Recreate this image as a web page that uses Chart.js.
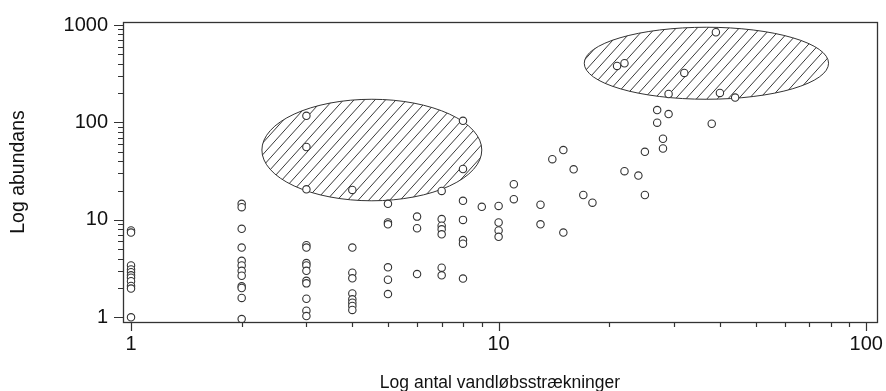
<!DOCTYPE html>
<html><head><meta charset="utf-8">
<script src="https://cdn.jsdelivr.net/npm/chart.js@4/dist/chart.umd.min.js"></script>
<style>html,body{margin:0;padding:0;background:#fff}#wrap{width:886px;height:391px}</style>
</head><body><div id="wrap"><canvas id="c" width="886" height="391"></canvas></div>
<script>
// number of stream stretches (x) and abundance (y) for each observation
const stretches = [
  1,1,1,1,1,1,1,1,1,1,1,
  2,2,2,2,2,2,2,2,2,2,2,2,
  3,3,3,3,3,3,3,3,3,3,3,3,3,
  4,4,4,4,4,4,4,4,4,
  5,5,5,5,5,5,
  6,6,6,
  7,7,7,7,7,7,7,
  8,8,8,8,8,8,8,
  9,
  10,10,10,10,
  11,11,
  13,13,
  14,
  15,15,
  16,17,18,
  21,22,22,
  24,25,25,
  27,27,28,28,29,29,
  32,38,39,40,44
];
const abundance = [
  7.8,7.4,3.4,3.1,2.9,2.7,2.55,2.35,2.1,1.97,1.0,
  14.6,13.5,8.1,5.2,3.8,3.4,3.0,2.67,2.08,2.0,1.58,0.96,
  117,56,20.6,5.5,5.2,3.6,3.4,3.0,2.37,2.23,1.55,1.17,1.03,
  20.3,5.2,2.87,2.51,1.76,1.53,1.41,1.31,1.19,
  14.6,9.4,9.0,3.26,2.43,1.73,
  10.8,8.2,2.78,
  19.8,10.2,8.7,8.0,7.1,3.23,2.7,
  104,33.3,15.7,10.0,6.2,5.7,2.5,
  13.6,
  13.9,9.4,7.8,6.7,
  23.2,16.3,
  14.3,9.0,
  42,
  52,7.4,
  33,18,15,
  380,405,31.6,
  28.5,50,18,
  134,99.5,68,54,196,122,
  322,97,843,201,180
];
// hatched ellipses: [min, max] extents in data units
const ellipseX = [[2.27, 9.0], [17.1, 79]];
const ellipseY = [[15.7, 173], [173, 949]];
// axis ticks
const xMajorTicks = [1, 10, 100];
const yMajorTicks = [1, 10, 100, 1000];
const xTickLabels = ['1', '10', '100'];
const yTickLabels = ['1', '10', '100', '1000'];
const xTitle = 'Log antal vandløbsstrækninger';
const yTitle = 'Log abundans';

const points = stretches.map((s, i) => ({x: s, y: abundance[i]}));
const ink = '#333';

function logTicks(majors) {
  const out = [];
  for (let i = 0; i < majors.length; i++) {
    out.push(majors[i]);
    if (i < majors.length - 1) for (let m = 2; m <= 9; m++) out.push(majors[i] * m);
  }
  return out.map(v => ({value: v}));
}

const decor = {
  id: 'decor',
  beforeDatasetsDraw(chart) {
    const {ctx, scales: {x, y}} = chart;
    for (let i = 0; i < ellipseX.length; i++) {
      const x0 = x.getPixelForValue(ellipseX[i][0]), x1 = x.getPixelForValue(ellipseX[i][1]);
      const y0 = y.getPixelForValue(ellipseY[i][0]), y1 = y.getPixelForValue(ellipseY[i][1]);
      const cx = (x0 + x1) / 2, cy = (y0 + y1) / 2;
      const rx = Math.abs(x1 - x0) / 2, ry = Math.abs(y1 - y0) / 2;
      ctx.save();
      ctx.beginPath();
      ctx.ellipse(cx, cy, rx, ry, 0, 0, Math.PI * 2);
      ctx.fillStyle = '#fff';
      ctx.fill();
      ctx.save();
      ctx.clip();
      const ang = 48 * Math.PI / 180;
      const cot = 1 / Math.tan(ang);
      const step = 10.5;
      const H = (ry + 2) * cot;
      ctx.beginPath();
      for (let c = cx - rx - H - step; c <= cx + rx + H + step; c += step) {
        ctx.moveTo(c - (ry + 2) * cot, cy + ry + 2);
        ctx.lineTo(c + (ry + 2) * cot, cy - ry - 2);
      }
      ctx.strokeStyle = '#222';
      ctx.lineWidth = 0.9;
      ctx.stroke();
      ctx.restore();
      ctx.beginPath();
      ctx.ellipse(cx, cy, rx, ry, 0, 0, Math.PI * 2);
      ctx.strokeStyle = ink;
      ctx.lineWidth = 1;
      ctx.stroke();
      ctx.restore();
    }
  },
  afterDraw(chart) {
    const {ctx, chartArea: a, scales: {x, y}} = chart;
    ctx.save();
    ctx.strokeStyle = ink;
    ctx.lineWidth = 1.2;
    ctx.beginPath();
    x.ticks.forEach(t => {
      const px = Math.round(x.getPixelForValue(t.value)) + 0.5;
      const len = xMajorTicks.includes(t.value) ? 9 : 5;
      ctx.moveTo(px, a.bottom);
      ctx.lineTo(px, a.bottom + len);
    });
    y.ticks.forEach(t => {
      const py = Math.round(y.getPixelForValue(t.value)) + 0.5;
      const len = yMajorTicks.includes(t.value) ? 9 : 5;
      ctx.moveTo(a.left, py);
      ctx.lineTo(a.left - len, py);
    });
    ctx.stroke();
    ctx.lineWidth = 1.3;
    ctx.strokeRect(Math.round(a.left) + 0.5, Math.round(a.top) + 0.5,
                   Math.round(a.right - a.left), Math.round(a.bottom - a.top));
    ctx.restore();
  }
};

const fam = 'Liberation Sans, Arial, sans-serif';
const tickFont = {family: fam, size: 20};

new Chart(document.getElementById('c'), {
  type: 'scatter',
  data: {datasets: [{
    data: points,
    pointRadius: 3.7,
    pointHoverRadius: 3.7,
    pointBorderWidth: 1.1,
    pointBorderColor: ink,
    pointBackgroundColor: '#fff'
  }]},
  options: {
    responsive: false,
    animation: false,
    devicePixelRatio: 1,
    layout: {padding: {top: 22, right: 9, left: 0, bottom: 0}},
    plugins: {legend: {display: false}, tooltip: {enabled: false}},
    scales: {
      x: {
        type: 'logarithmic',
        min: 0.951, max: 107,
        afterBuildTicks: s => { s.ticks = logTicks(xMajorTicks); },
        afterFit: s => { s.height = 69; },
        grid: {display: true, drawOnChartArea: false, drawTicks: true, tickLength: 9, tickColor: 'rgba(0,0,0,0)'},
        border: {display: false},
        ticks: {
          autoSkip: false, maxRotation: 0, padding: 1, color: '#111', font: tickFont,
          callback: v => { const k = xMajorTicks.indexOf(v); return k >= 0 ? xTickLabels[k] : ''; }
        },
        title: {display: true, text: xTitle, color: '#111', font: {family: fam, size: 17.5, lineHeight: 0.9}, padding: {top: 0, bottom: 0}}
      },
      y: {
        type: 'logarithmic',
        min: 0.895, max: 1074,
        afterBuildTicks: s => { s.ticks = logTicks(yMajorTicks); },
        afterFit: s => { s.width = 123; },
        grid: {display: true, drawOnChartArea: false, drawTicks: true, tickLength: 9, tickColor: 'rgba(0,0,0,0)'},
        border: {display: false},
        ticks: {
          autoSkip: false, padding: 6, color: '#111', font: tickFont,
          callback: v => { const k = yMajorTicks.indexOf(v); return k >= 0 ? yTickLabels[k] : ''; }
        },
        title: {display: true, text: yTitle, color: '#111', font: {family: fam, size: 19.5, lineHeight: 1.1}, padding: {top: 8, bottom: 0}}
      }
    }
  },
  plugins: [decor]
});
</script>
</body></html>
